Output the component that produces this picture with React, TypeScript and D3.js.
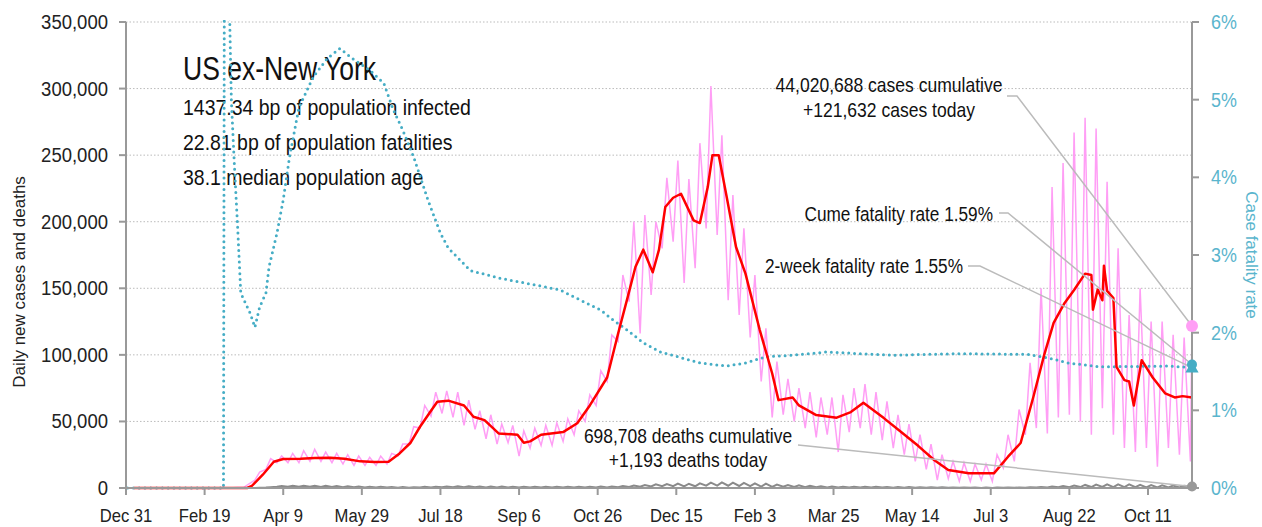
import * as d3 from 'd3';

// ---- data ----
const leftTicks = [0, 50000, 100000, 150000, 200000, 250000, 300000, 350000];
const rightTicks = [0, 1, 2, 3, 4, 5, 6];
const xTickDates = [
  '2019-12-31', '2020-02-19', '2020-04-09', '2020-05-29', '2020-07-18', '2020-09-06', '2020-10-26',
  '2020-12-15', '2021-02-03', '2021-03-25', '2021-05-14', '2021-07-03', '2021-08-22', '2021-10-11',
];

// daily cases, one weekly low (Sunday) and one weekly high (Wednesday), thousands, from week of 2020-03-01
const weekStart = '2020-03-01';
const weeklyLowK = [
  0, 0.1, 0.5, 6, 14, 19, 19, 19, 20, 20,
  19, 18, 17, 17, 17, 18, 24, 33, 45, 54,
  56, 53, 47, 44, 37, 33, 34, 24, 30, 32,
  32, 35, 40, 50, 62, 80, 110, 140, 116, 145,
  180, 185, 154, 165, 195, 190, 141, 130, 113, 80,
  53, 55, 50, 45, 38, 40, 27, 42, 45, 40,
  36, 30, 25, 20, 14, 6, 7, 5, 5, 6,
  5, 15, 20, 40, 45, 41, 53, 55, 50, 40,
  60, 40, 30, 27, 30, 16, 30, 25,
];
const weeklyHighK = [
  0.1, 0.3, 3, 12, 22, 24, 26, 28, 29, 27,
  26, 25, 24, 23, 24, 26, 33, 46, 62, 72,
  73, 72, 66, 58, 55, 48, 47, 43, 45, 47,
  49, 52, 58, 70, 88, 115, 160, 200, 205, 200,
  233, 246, 232, 259, 302, 265, 220, 195, 160, 120,
  95, 82, 75, 72, 68, 68, 70, 75, 78, 72,
  65, 55, 48, 40, 33, 25, 20, 19, 18, 18,
  25, 40, 59, 94, 150, 226, 244, 267, 278, 270,
  230, 180, 130, 150, 125, 125, 115, 113,
];
const lastLowK = 20;
const casesToday = 121632;
const lastDate = '2021-11-08';

// 7-day average of new cases, thousands
const avgDates = [
  '2020-01-05', '2020-03-17', '2020-03-20', '2020-03-27', '2020-04-03', '2020-04-09', '2020-04-20', '2020-04-29',
  '2020-05-09', '2020-05-18', '2020-05-28', '2020-06-06', '2020-06-15', '2020-06-22', '2020-06-29', '2020-07-05',
  '2020-07-12', '2020-07-16', '2020-07-23', '2020-08-02', '2020-08-08', '2020-08-15', '2020-08-24', '2020-09-05',
  '2020-09-09', '2020-09-13', '2020-09-20', '2020-10-04', '2020-10-13', '2020-10-21', '2020-11-01', '2020-11-08',
  '2020-11-14', '2020-11-19', '2020-11-24', '2020-11-30', '2020-12-04', '2020-12-08', '2020-12-13', '2020-12-18',
  '2020-12-26', '2020-12-30', '2021-01-04', '2021-01-07', '2021-01-11', '2021-01-16', '2021-01-22', '2021-01-28',
  '2021-02-06', '2021-02-14', '2021-02-18', '2021-02-27', '2021-03-03', '2021-03-14', '2021-03-27', '2021-04-05',
  '2021-04-13', '2021-04-26', '2021-05-07', '2021-05-18', '2021-05-28', '2021-06-06', '2021-06-19', '2021-07-05',
  '2021-07-14', '2021-07-22', '2021-07-30', '2021-08-06', '2021-08-12', '2021-08-19', '2021-08-25', '2021-09-01',
  '2021-09-05', '2021-09-06', '2021-09-09', '2021-09-12', '2021-09-13', '2021-09-15', '2021-09-19', '2021-09-21',
  '2021-09-26', '2021-09-29', '2021-10-02', '2021-10-07', '2021-10-14', '2021-10-22', '2021-10-28', '2021-11-02',
  '2021-11-08',
];
const avgCasesK = [
  0, 0, 1.5, 10, 19.7, 21.8, 22, 22.5,
  22.8, 22, 20, 19.5, 19.7, 26, 34, 46,
  58, 64.8, 65.6, 62, 53.5, 51, 41, 40,
  34, 35, 40, 42, 48.6, 62, 83, 116,
  143, 166, 179, 162, 179, 211, 218, 221,
  201, 199, 226, 250, 250, 219, 181, 161,
  119, 86, 66, 68, 62, 54.8, 52.8, 57,
  64, 52.5, 42, 31.5, 21, 13.5, 11, 11,
  23.5, 33.8, 68, 100, 124, 139, 148.7, 161,
  160, 134, 149, 141, 167, 148, 142.7, 91,
  81, 80, 62, 96, 83, 71, 68, 69,
  68,
];

// daily deaths, weekly high / low, same weeks as the cases
const weeklyDeathsHigh = [
  0, 5, 30, 150, 600, 1500, 1600, 1700, 1700, 1600,
  1500, 1300, 1100, 1000, 900, 750, 700, 650, 900, 1000,
  1200, 1300, 1300, 1200, 1200, 1100, 1000, 900, 1000, 950,
  900, 900, 900, 1000, 1100, 1200, 1400, 1900, 2200, 2700,
  3000, 3300, 3200, 3500, 4000, 4200, 4000, 3800, 3500, 3300,
  2600, 2300, 2000, 1700, 1300, 1100, 1000, 900, 900, 850,
  800, 800, 700, 650, 600, 500, 450, 400, 350, 300,
  300, 350, 450, 600, 800, 1100, 1400, 1800, 2300, 2500,
  2800, 2800, 2700, 2400, 2200, 2000, 1800, 1700,
];
const weeklyDeathsLow = [
  0, 0, 10, 50, 300, 900, 1000, 900, 900, 800,
  700, 600, 500, 400, 350, 300, 250, 250, 300, 450,
  500, 550, 500, 500, 450, 400, 350, 300, 350, 300,
  300, 300, 350, 400, 400, 450, 600, 800, 900, 1100,
  1300, 1400, 1200, 1300, 1800, 1800, 1700, 1500, 1400, 1000,
  900, 1000, 800, 600, 500, 400, 350, 300, 300, 300,
  300, 250, 250, 200, 200, 150, 150, 100, 100, 80,
  80, 100, 150, 200, 300, 400, 500, 600, 700, 700,
  800, 700, 700, 600, 500, 500, 450, 400,
];
const deathsToday = 1193;

// case fatality rate, percent
const cfrDates = [
  '2020-01-01', '2020-03-02', '2020-03-03', '2020-03-05', '2020-03-06', '2020-03-07', '2020-03-09', '2020-03-11',
  '2020-03-13', '2020-03-16', '2020-03-19', '2020-03-22', '2020-03-25', '2020-03-29', '2020-03-31', '2020-04-05',
  '2020-04-09', '2020-04-13', '2020-04-19', '2020-04-28', '2020-05-07', '2020-05-15', '2020-05-23', '2020-06-03',
  '2020-06-12', '2020-06-18', '2020-06-24', '2020-07-01', '2020-07-10', '2020-07-18', '2020-07-23', '2020-08-06',
  '2020-08-25', '2020-09-20', '2020-10-02', '2020-10-15', '2020-10-28', '2020-11-05', '2020-11-14', '2020-11-24',
  '2020-12-05', '2020-12-16', '2020-12-30', '2021-01-16', '2021-01-28', '2021-02-10', '2021-02-27', '2021-03-20',
  '2021-04-11', '2021-05-02', '2021-06-14', '2021-07-27', '2021-08-12', '2021-08-21', '2021-09-11', '2021-10-24',
  '2021-11-08',
];
const cfrPct = [
  0, 0, 12, 7, 6, 5.0, 4.13, 3.36,
  2.51, 2.38, 2.25, 2.07, 2.33, 2.51, 2.85, 3.28,
  3.71, 4.26, 4.9, 5.29, 5.53, 5.66, 5.53, 5.38,
  5.21, 4.87, 4.61, 4.26, 3.71, 3.28, 3.09, 2.8,
  2.7, 2.6, 2.55, 2.42, 2.29, 2.16, 2.03, 1.87,
  1.75, 1.69, 1.61, 1.57, 1.61, 1.69, 1.71, 1.75,
  1.73, 1.71, 1.73, 1.72, 1.66, 1.61, 1.56, 1.57,
  1.55,
];
const cumeCfr = 1.59;
const twoWeekCfr = 1.55;

const SANS = '"Liberation Sans", Arial, sans-serif';
const TEAL = '#45adc5';
const TEAL_TEXT = '#5ab5cd';
const PINK = '#ff9ef5';
const AXIS = '#999';

const parse = d3.timeParse('%Y-%m-%d');
const day = (s: string) => parse(s) as Date;

type Pt = [Date, number];

// condensed look: regular sans squeezed horizontally
function CText(props: {
  x: number; y: number; size: number; sx: number; anchor?: string; fill?: string; dy?: string; children: any;
}) {
  const {x, y, size, sx, anchor = 'start', fill = '#111', dy, children} = props;
  return (
    <text transform={`translate(${x},${y}) scale(${sx},1)`} fontFamily={SANS} fontSize={size}
      textAnchor={anchor} fill={fill} dy={dy}>
      {children}
    </text>
  );
}

export default function App() {
  const width = 1262;
  const height = 527;
  const x = d3.scaleTime().domain([day('2019-12-31'), day(lastDate)]).range([126, 1192]);
  const y = d3.scaleLinear().domain([0, 350000]).range([488, 22]);
  const y2 = d3.scaleLinear().domain([0, 6]).range([488, 22]);

  const start = day(weekStart);
  const raw: Pt[] = [[day('2020-01-05'), 0], [day('2020-02-29'), 0]];
  const deaths: Pt[] = [[day('2020-01-05'), 0], [day('2020-02-29'), 0]];
  weeklyHighK.forEach((h, i) => {
    raw.push([d3.timeDay.offset(start, 7 * i), weeklyLowK[i] * 1000]);
    raw.push([d3.timeDay.offset(start, 7 * i + 3), h * 1000]);
    deaths.push([d3.timeDay.offset(start, 7 * i), weeklyDeathsLow[i]]);
    deaths.push([d3.timeDay.offset(start, 7 * i + 3), weeklyDeathsHigh[i]]);
  });
  raw.push([d3.timeDay.offset(day(lastDate), -1), lastLowK * 1000], [day(lastDate), casesToday]);
  deaths.push([day(lastDate), deathsToday]);

  const avg: Pt[] = avgDates.map((d, i) => [day(d), avgCasesK[i] * 1000]);
  const cfr: Pt[] = cfrDates.map((d, i) => [day(d), cfrPct[i]]);

  const line = d3.line<Pt>().x((d) => x(d[0])).y((d) => y(d[1]));
  const line2 = d3.line<Pt>().x((d) => x(d[0])).y((d) => y2(d[1]));
  const fmt = d3.format(',');
  const tfmt = d3.timeFormat('%b %-d');

  const xEnd = x(day(lastDate));
  const tri = d3.symbol(d3.symbolTriangle, 75)() as string;

  return (
    <svg width={width} height={height} style={{position: 'fixed', left: 0, top: 0}}>
      <defs>
        <clipPath id="plot">
          <rect x={126} y={20} width={1070} height={470} />
        </clipPath>
      </defs>
      <rect width={width} height={height} fill="#fff" />

      {/* grid */}
      {leftTicks.slice(1).map((t) => (
        <line key={t} x1={126} x2={1192} y1={y(t)} y2={y(t)} stroke="#bbb" strokeWidth={1} strokeDasharray="1.5 2" />
      ))}

      {/* title block */}
      <CText x={183} y={80} size={34} sx={0.78}>US ex-New York</CText>
      <CText x={183} y={115} size={22} sx={0.885}>1437.34 bp of population infected</CText>
      <CText x={183} y={150} size={22} sx={0.885}>22.81 bp of population fatalities</CText>
      <CText x={183} y={185} size={22} sx={0.885}>38.1 median population age</CText>

      {/* series */}
      <g clipPath="url(#plot)" fill="none">
        <path d={line(raw) as string} stroke={PINK} strokeWidth={1.5} />
        <path d={line2(cfr) as string} stroke={TEAL} strokeWidth={3} strokeDasharray="0 5.8" strokeLinecap="round" />
        <path d={line(avg) as string} stroke="#ff0000" strokeWidth={2.5} strokeLinejoin="round" />
        <path d={line(deaths) as string} stroke="#8a8a8a" strokeWidth={2} />
      </g>

      {/* axes */}
      <g stroke={AXIS} strokeWidth={2}>
        <line x1={126} x2={126} y1={22} y2={489} />
        <line x1={1192} x2={1192} y1={22} y2={489} />
        <line x1={119} x2={1192} y1={488} y2={488} />
        {leftTicks.map((t) => (
          <line key={t} x1={119} x2={126} y1={y(t)} y2={y(t)} />
        ))}
        {rightTicks.map((t) => (
          <line key={t} x1={1192} x2={1199} y1={y2(t)} y2={y2(t)} />
        ))}
        {xTickDates.map((d) => (
          <line key={d} x1={x(day(d))} x2={x(day(d))} y1={488} y2={495} />
        ))}
      </g>
      {leftTicks.map((t) => (
        <CText key={t} x={108} y={y(t)} size={19.5} sx={0.95} anchor="end" fill="#222" dy="0.36em">{fmt(t)}</CText>
      ))}
      {rightTicks.map((t) => (
        <CText key={t} x={1211} y={y2(t)} size={19.5} sx={0.92} fill={TEAL_TEXT} dy="0.36em">{t}%</CText>
      ))}
      {xTickDates.map((d) => (
        <CText key={d} x={x(day(d))} y={522} size={18.5} sx={0.9} anchor="middle" fill="#222">{tfmt(day(d))}</CText>
      ))}
      <text transform="translate(25,282) rotate(-90)" textAnchor="middle" fontFamily={SANS} fontSize={17} fill="#222">
        Daily new cases and deaths
      </text>
      <text transform="translate(1246,255) rotate(90)" textAnchor="middle" fontFamily={SANS} fontSize={17} fill={TEAL_TEXT}>
        Case fatality rate
      </text>

      {/* annotations */}
      <g fill="none" stroke="#bbb" strokeWidth={1.5}>
        <polyline points={`1007,96 1017,96 ${xEnd},${y(casesToday)}`} />
        <polyline points={`999,213 1008,213 ${xEnd},${y2(cumeCfr)}`} />
        <polyline points={`968,266 980,266 ${xEnd},${y2(twoWeekCfr)}`} />
        <polyline points={`798,445 808,446 ${xEnd},${y(deathsToday)}`} />
      </g>
      <CText x={889} y={92} size={21} sx={0.835} anchor="middle">44,020,688 cases cumulative</CText>
      <CText x={889} y={117} size={21} sx={0.835} anchor="middle">+{fmt(casesToday)} cases today</CText>
      <CText x={993} y={221} size={20.5} sx={0.84} anchor="end">Cume fatality rate {cumeCfr}%</CText>
      <CText x={963} y={273} size={20.5} sx={0.84} anchor="end">2-week fatality rate {twoWeekCfr}%</CText>
      <CText x={688} y={443} size={20.5} sx={0.85} anchor="middle">698,708 deaths cumulative</CText>
      <CText x={688} y={467} size={20.5} sx={0.85} anchor="middle">+{fmt(deathsToday)} deaths today</CText>

      {/* end markers */}
      <circle cx={xEnd} cy={y(casesToday)} r={6} fill={PINK} />
      <path d={tri} transform={`translate(${xEnd},${y2(twoWeekCfr) + 1})`} fill={TEAL} />
      <circle cx={xEnd} cy={y2(cumeCfr)} r={5} fill={TEAL} />
      <circle cx={xEnd} cy={y(deathsToday)} r={5} fill="#999" />
    </svg>
  );
}
